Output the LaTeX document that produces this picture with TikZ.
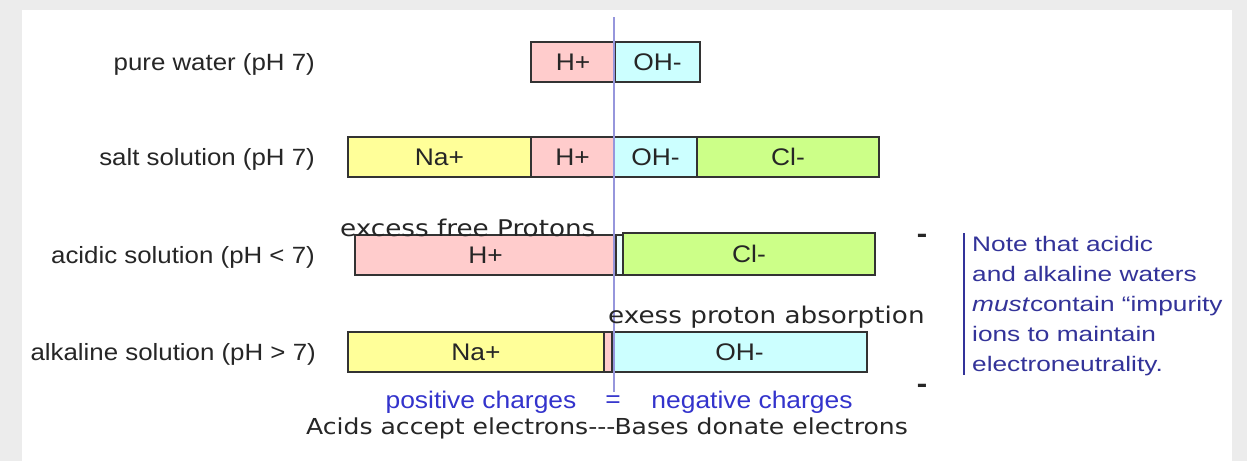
\documentclass[tikz,border=0pt]{standalone}
\usepackage{fontspec}
\setmainfont{Liberation Sans}
\newfontfamily\labelfont[FakeStretch=1.1]{Liberation Sans}
\newfontfamily\notefont[FakeStretch=1.25]{Liberation Sans}
\newfontfamily\handfont[FakeStretch=1.14]{DejaVu Sans}
\usepackage{xcolor}
\definecolor{pagegray}{RGB}{236,236,236}
\definecolor{hpink}{RGB}{255,204,204}
\definecolor{ohcyan}{RGB}{204,255,255}
\definecolor{nayellow}{RGB}{255,255,153}
\definecolor{clgreen}{RGB}{204,255,136}
\definecolor{boxedge}{RGB}{51,51,51}
\definecolor{midline}{RGB}{150,150,220}
\definecolor{chargeblue}{RGB}{51,51,204}
\definecolor{notenavy}{RGB}{51,51,153}

\begin{document}
\begin{tikzpicture}[x=1pt, y=-1pt, font=\labelfont]
\tikzset{ion/.style={draw=boxedge, line width=1.6pt, minimum height=40pt, inner sep=0pt, outer sep=0pt, anchor=west, text=black!85, font=\labelfont\fontsize{24}{24}\selectfont} }
\tikzset{rowlabel/.style={anchor=east, inner sep=0pt, text=black!85, font=\labelfont\fontsize{23.5}{24}\selectfont} }
\tikzset{hand/.style={inner sep=0pt, text=black!85, font=\handfont\fontsize{23}{24}\selectfont} }
\tikzset{charge/.style={inner sep=0pt, text=chargeblue, font=\labelfont\fontsize{24}{24}\selectfont} }
\fill[pagegray] (0,0) rectangle (1247,461);
\fill[white] (22,10) rectangle (1232,461);
\useasboundingbox (0,0) rectangle (1247,461);
% pure water
\node[ion, fill=hpink, minimum width=84pt] (h1) at (531,62) {H+};
\node[ion, fill=ohcyan, minimum width=85pt] (oh1) at (h1.east) {OH-};
% salt solution
\node[ion, fill=nayellow, minimum width=183pt] (na2) at (348,157) {Na+};
\node[ion, fill=hpink, minimum width=83pt] (h2) at (na2.east) {H+};
\node[ion, fill=ohcyan, minimum width=83pt] (oh2) at (h2.east) {OH-};
\node[ion, fill=clgreen, minimum width=182pt] (cl2) at (oh2.east) {Cl-};
% acidic solution
\node[ion, fill=hpink, minimum width=261pt] (h3) at (355,255) {H+};
\node[ion, fill=ohcyan!40, minimum width=7pt] (oh3) at (h3.east) {};
\node[ion, fill=clgreen, minimum width=252pt, minimum height=42pt] (cl3) at ([yshift=1pt]oh3.east) {Cl-};
% alkaline solution
\node[ion, fill=nayellow, minimum width=256pt] (na4) at (348,352) {Na+};
\node[ion, fill=hpink, minimum width=8pt] (h4) at (na4.east) {};
\node[ion, fill=ohcyan, minimum width=255pt] (oh4) at (h4.east) {OH-};
% row labels
\node[rowlabel] (pure) at (315,64) {pure water (pH 7)};
\node[rowlabel] (salt) at (315,159) {salt solution (pH 7)};
\node[rowlabel] (acid) at (315,257) {acidic solution (pH < 7)};
\node[rowlabel] (alk) at (316,354) {alkaline solution (pH > 7)};
% centre line
\coordinate (ctop) at (614,17);
\coordinate (cbot) at (614,392);
\draw[midline, line width=1.3pt] (ctop) -- (cbot);
% handwritten notes
\node[hand, anchor=base west] (xfree) at (340,236) {excess free Protons};
\node[hand, anchor=base west] (xabs) at (608,323) {exess proton absorption};
\node[hand, anchor=base, font=\handfont\fontsize{22}{24}\selectfont] (accept) at (607,434) {Acids accept electrons-{}-{}-Bases donate electrons};
% charge balance
\node[charge] (pos) at (481,402) {positive charges};
\node[charge] (eq) at (613,402) {=};
\node[charge] (neg) at (752,402) {negative charges};
\node[hand, font=\handfont\bfseries\fontsize{23}{24}\selectfont] (dup) at (922,238) {-};
\node[hand, font=\handfont\bfseries\fontsize{23}{24}\selectfont] (ddown) at (922,388) {-};
% side note
\coordinate (ntop) at (964,233);
\coordinate (nbot) at (964,375);
\draw[notenavy, line width=2pt] (ntop) -- (nbot);
\node[anchor=north west, inner sep=0pt, align=left, text=notenavy, font=\notefont\fontsize{21}{30}\selectfont] (note) at (972,236.5) {Note that acidic\\and alkaline waters\\\textit{must}contain “impurity\\ions to maintain\\electroneutrality.};
\end{tikzpicture}
\end{document}
